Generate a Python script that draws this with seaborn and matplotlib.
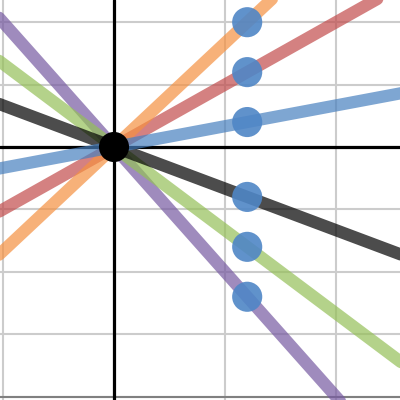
import matplotlib
matplotlib.use("Agg")
import matplotlib.pyplot as plt
import seaborn as sns
import pandas as pd

# Data
line_names = ["purple", "green", "red", "orange", "black", "blue"]
line_slopes = [-2.0, -4/3, 1.0, 5/3, -2/3, 1/3]
line_colors = ["#775aa2", "#95c058", "#c24c4c", "#f59141", "#000000", "#4880bf"]
x_ends = [-1.2, 2.8]
dot_x = [1.2, 1.2, 1.2, 1.2, 1.2, 1.2]
dot_y = [2.0, 1.2, 0.4, -0.8, -1.6, -2.4]
origin_x = [0.0]
origin_y = [0.0]
x_grid = [-1, 0, 1, 2]
y_grid = [2, 1, 0, -1, -2, -3, -4]

rows = []
for name, m in zip(line_names, line_slopes):
    for xe in x_ends:
        rows.append({"line": name, "x": xe, "y": m * xe})
df_lines = pd.DataFrame(rows)
df_dots = pd.DataFrame({"x": dot_x, "y": dot_y})
df_origin = pd.DataFrame({"x": origin_x, "y": origin_y})

sns.set_style("white")
fig = plt.figure(figsize=(4, 4), dpi=100)
ax = fig.add_axes([0, 0, 1, 1])

for g in x_grid:
    ax.axvline(g, color="#cccccc", lw=1.5, zorder=0)
for g in y_grid:
    ax.axhline(g, color="#cccccc", lw=1.5, zorder=0)
ax.axhline(-4, color="#808080", lw=1.5, zorder=0.5)

ax.axhline(0, color="#000000", lw=2.3, zorder=1)
ax.axvline(0, color="#000000", lw=2.3, zorder=1)

sns.lineplot(data=df_lines, x="x", y="y", hue="line", hue_order=line_names,
             palette=dict(zip(line_names, line_colors)), lw=8.8, alpha=0.7,
             legend=False, ax=ax, zorder=2, sort=False, estimator=None)

sns.scatterplot(data=df_dots, x="x", y="y", s=470, color="#4f86c6", alpha=0.9,
                edgecolor="none", ax=ax, zorder=3, legend=False)
sns.scatterplot(data=df_origin, x="x", y="y", s=470, color="#000000",
                edgecolor="none", ax=ax, zorder=4, legend=False)

ax.set_xlim(-114/111, 286/111)
ax.set_ylim(-253/62.4, 147/62.4)
ax.set_xlabel("")
ax.set_ylabel("")
ax.set_xticks([])
ax.set_yticks([])
for s in ax.spines.values():
    s.set_visible(False)

fig.savefig("out.png", dpi=100)
